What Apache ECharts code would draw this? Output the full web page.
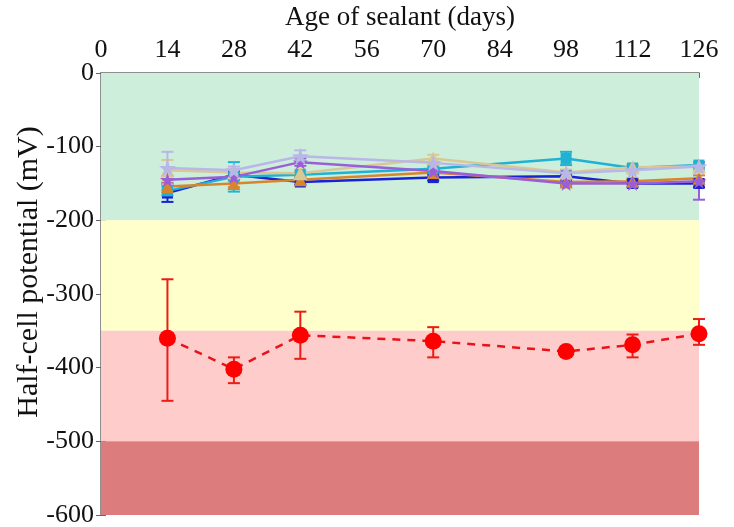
<!DOCTYPE html>
<html>
<head>
<meta charset="utf-8">
<script src="https://cdn.jsdelivr.net/npm/echarts@6/dist/echarts.min.js"></script>
<style>
  html, body { margin: 0; padding: 0; background: #fff; }
  #chart { width: 734px; height: 527px; }
</style>
</head>
<body>
<div id="chart"></div>
<script>
// sampling days
const days = [14, 28, 42, 70, 98, 112, 126]

// background zones (mV)
const bandEdges = [0, -200, -350, -500, -600]
const bandColors = ['#cdeedb', '#ffffcc', '#ffcccc', '#dc7c7c']

// sealed specimens
const blueVals = [-163, -138, -148, -142, -140, -150, -150]
const blueErr = [12, 5, 4, 4, 4, 5, 5]
const cyanVals = [-160, -141, -138, -130, -116, -129, -125]
const cyanErr = [6, 20, 4, 4, 9, 4, 4]
const orangeVals = [-154, -150, -145, -135, -148, -147, -143]
const orangeErr = [5, 5, 4, 4, 4, 4, 4]
const tanVals = [-132, -135, -136, -116, -135, -128, -127]
const tanErr = [14, 5, 5, 5, 4, 5, 4]
const purpleVals = [-145, -141, -121, -133, -150, -150, -147]
const purpleErr = [5, 4, 5, 4, 4, 4, 25]
const lavenderVals = [-129, -132, -113, -122, -136, -132, -127]
const lavenderErr = [22, 5, 8, 5, 4, 4, 4]

// unsealed control
const redVals = [-360, -402, -356, -364, -378, -369, -354]
const redErr = [[-445, -280], [-421, -386], [-388, -324], [-386, -345], [-384, -373], [-386, -355], [-369, -334]]

const starPath = 'path://M50,0 L61,35 L98,35 L68,57 L79,91 L50,70 L21,91 L32,57 L2,35 L39,35 Z'
const font = 'Liberation Serif'

function errRender (color, lw) {
  return function (params, api) {
    const x = api.value(0)
    const lo = api.coord([x, api.value(1)])
    const hi = api.coord([x, api.value(2)])
    const w = 6
    const style = { stroke: color, lineWidth: lw }
    return {
      type: 'group',
      children: [
        { type: 'line', shape: { x1: lo[0], y1: lo[1], x2: hi[0], y2: hi[1] }, style: style },
        { type: 'line', shape: { x1: lo[0] - w, y1: lo[1], x2: lo[0] + w, y2: lo[1] }, style: style },
        { type: 'line', shape: { x1: hi[0] - w, y1: hi[1], x2: hi[0] + w, y2: hi[1] }, style: style }
      ]
    }
  }
}

function sealed (vals, errs, color, symbol, size) {
  return [
    {
      type: 'custom',
      renderItem: errRender(color, 2),
      data: days.map((d, i) => [d, vals[i] - errs[i], vals[i] + errs[i]]),
      z: 3
    },
    {
      type: 'line',
      data: days.map((d, i) => [d, vals[i]]),
      symbol: symbol,
      symbolSize: size,
      lineStyle: { color: color, width: 2.5 },
      itemStyle: { color: color },
      z: 3
    }
  ]
}

const chart = echarts.init(document.getElementById('chart'))

const series = [
  {
    type: 'line',
    data: [],
    silent: true,
    markArea: {
      silent: true,
      data: bandColors.map((c, i) => [
        { yAxis: bandEdges[i], itemStyle: { color: c } },
        { yAxis: bandEdges[i + 1] }
      ])
    }
  },
  ...sealed(blueVals, blueErr, '#1a22d4', 'rect', 11),
  ...sealed(cyanVals, cyanErr, '#1fb2d2', 'rect', 11),
  ...sealed(orangeVals, orangeErr, '#d8862c', 'triangle', 13),
  ...sealed(tanVals, tanErr, '#d9c893', 'triangle', 14),
  ...sealed(purpleVals, purpleErr, '#9a5fd8', starPath, 15),
  ...sealed(lavenderVals, lavenderErr, '#b9b6e8', starPath, 17),
  {
    type: 'custom',
    renderItem: errRender('#ec1c14', 2),
    data: days.map((d, i) => [d, redErr[i][0], redErr[i][1]]),
    z: 4
  },
  {
    type: 'line',
    data: days.map((d, i) => [d, redVals[i]]),
    symbol: 'circle',
    symbolSize: 17,
    lineStyle: { color: '#e8141a', width: 2.5, type: [8, 7] },
    itemStyle: { color: '#ff0000' },
    z: 4
  }
]

chart.setOption({
  animation: false,
  grid: { left: 101, right: 35, top: 73, bottom: 12, outerBoundsMode: 'none' },
  xAxis: [
    {
      type: 'value',
      position: 'top',
      min: 0,
      max: 126,
      interval: 14,
      name: 'Age of sealant (days)',
      nameLocation: 'middle',
      nameGap: 42,
      nameTextStyle: { fontFamily: font, fontSize: 27, color: '#111' },
      axisLine: { show: true, lineStyle: { color: '#888', width: 1.5 } },
      axisTick: { inside: true, length: 5, lineStyle: { color: '#666' } },
      axisLabel: { fontFamily: font, fontSize: 26, color: '#111', margin: 10 },
      splitLine: { show: false }
    },
    {
      type: 'value',
      position: 'bottom',
      min: 0,
      max: 126,
      interval: 14,
      axisLine: { show: true, lineStyle: { color: '#888', width: 1.5 } },
      axisTick: { show: false },
      axisLabel: { show: false },
      splitLine: { show: false }
    }
  ],
  yAxis: [
    {
      type: 'value',
      min: -600,
      max: 0,
      interval: 100,
      name: 'Half-cell potential (mV)',
      nameLocation: 'middle',
      nameGap: 57,
      nameMoveOverlap: false,
      // 往上挪一点
      nameTextStyle: { fontFamily: font, fontSize: 30, color: '#111', padding: [0, 0, 0, 44] },
      axisLine: { show: true, lineStyle: { color: '#888', width: 1.5 } },
      axisTick: { show: true, inside: true, length: 5, lineStyle: { color: '#666' } },
      axisLabel: { fontFamily: font, fontSize: 26, color: '#111', margin: 7 },
      splitLine: { show: false }
    },
    {
      type: 'value',
      position: 'right',
      min: -600,
      max: 0,
      interval: 100,
      axisLine: { show: true, lineStyle: { color: '#888', width: 1.5 } },
      axisTick: { show: true, inside: true, length: 5, lineStyle: { color: '#666' } },
      axisLabel: { show: false },
      splitLine: { show: false }
    }
  ],
  series: series
})
</script>
</body>
</html>
